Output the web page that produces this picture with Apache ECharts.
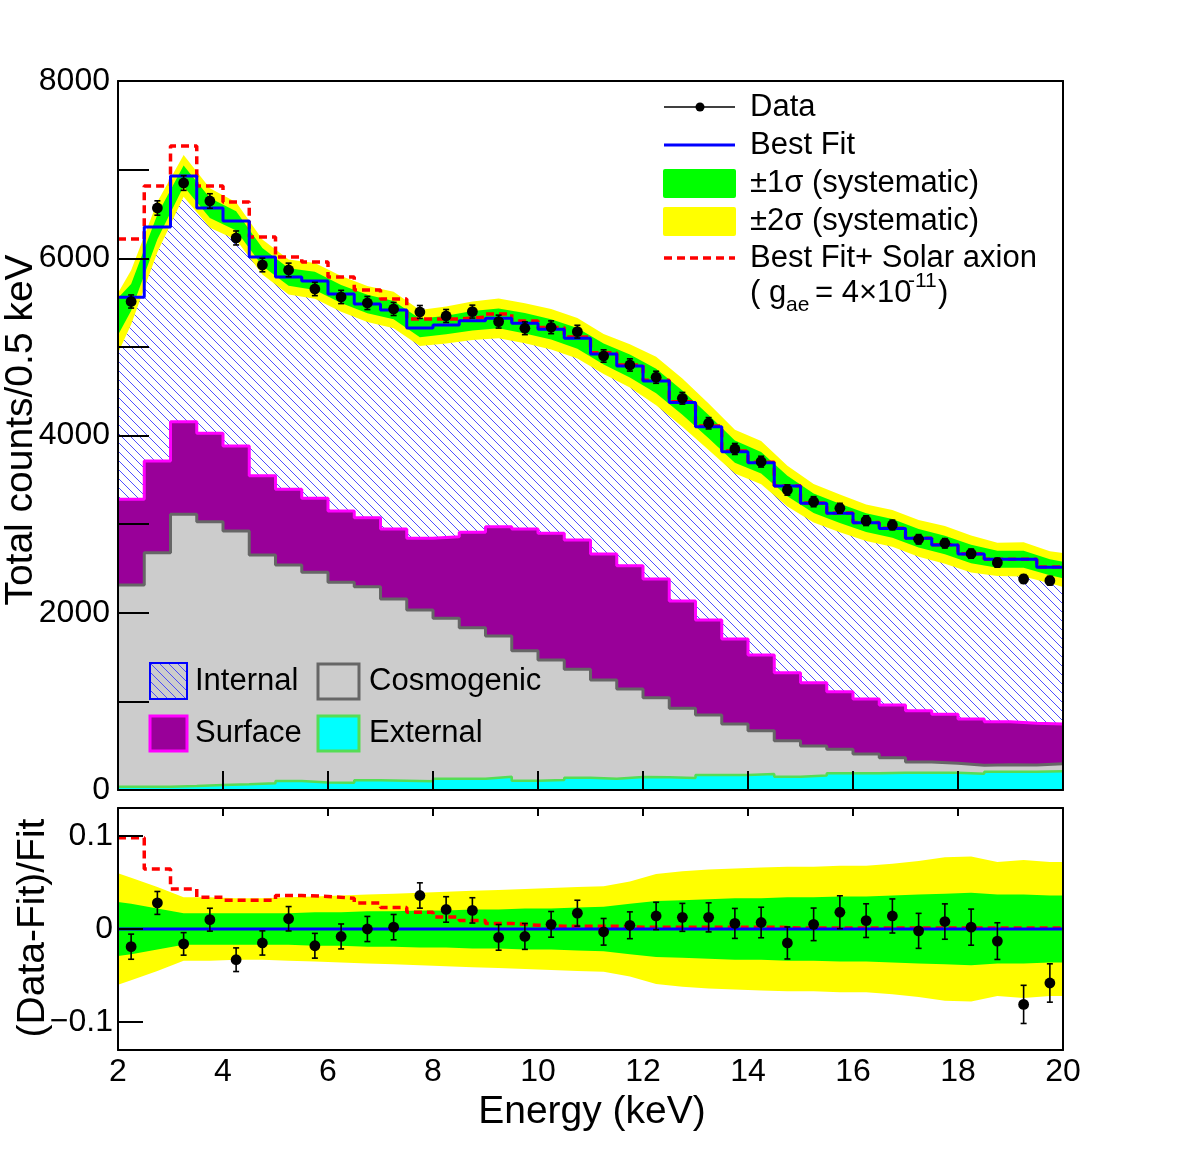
<!DOCTYPE html>
<html>
<head>
<meta charset="utf-8">
<title>Energy spectrum fit</title>
<script src="https://cdn.jsdelivr.net/npm/echarts@6/dist/echarts.min.js"></script>
<style>
html, body { margin: 0; padding: 0; background: #fff; }
#chart { width: 1182px; height: 1155px; }
</style>
</head>
<body>
<div id="chart"></div>
<script>
// bins of 0.5 keV from 2 to 20 keV
var xEdges = [2, 2.5, 3, 3.5, 4, 4.5, 5, 5.5, 6, 6.5, 7, 7.5, 8, 8.5, 9, 9.5, 10, 10.5, 11, 11.5,
	12, 12.5, 13, 13.5, 14, 14.5, 15, 15.5, 16, 16.5, 17, 17.5, 18, 18.5, 19, 19.5, 20];
var xCenters = [2.25, 2.75, 3.25, 3.75, 4.25, 4.75, 5.25, 5.75, 6.25, 6.75, 7.25, 7.75, 8.25, 8.75,
	9.25, 9.75, 10.25, 10.75, 11.25, 11.75, 12.25, 12.75, 13.25, 13.75, 14.25, 14.75, 15.25, 15.75,
	16.25, 16.75, 17.25, 17.75, 18.25, 18.75, 19.25, 19.75];

// top panel (counts / 0.5 keV)
var dataCounts = [5512, 6567, 6849, 6646, 6229, 5924, 5868, 5653, 5563, 5495, 5428, 5394, 5349, 5398,
	5285, 5210, 5221, 5172, 4897, 4796, 4657, 4420, 4138, 3848, 3705, 3385, 3253, 3179, 3039, 2990,
	2829, 2784, 2667, 2565, 2381, 2362];
var dataErr = [74, 81, 83, 82, 79, 77, 77, 75, 75, 74, 74, 73, 73, 73, 73, 72, 72, 72, 70, 69, 68, 66,
	64, 62, 61, 58, 57, 56, 55, 55, 53, 53, 52, 51, 49, 49];
var bestFit = [5559, 6353, 6929, 6567, 6421, 6014, 5789, 5744, 5597, 5484, 5416, 5213, 5247, 5295,
	5322, 5266, 5198, 5097, 4920, 4785, 4615, 4371, 4100, 3818, 3693, 3430, 3235, 3122, 3016, 2952,
	2840, 2765, 2663, 2603, 2603, 2513];
var fitPlusAxion = [6218, 6815, 7267, 6815, 6635, 6240, 6014, 5958, 5789, 5642, 5541, 5315, 5315, 5337,
	5370, 5292, 5219, 5112, 4935, 4795, 4624, 4380, 4107, 3824, 3698, 3434, 3238, 3125, 3018, 2954,
	2842, 2767, 2665, 2605, 2605, 2515];
// stacked tops: external < cosmogenic < surface < internal (= best fit)
var surfaceTop = [3280, 3712, 4156, 4025, 3882, 3547, 3393, 3292, 3148, 3073, 2945, 2840, 2858, 2908,
	2971, 2945, 2897, 2821, 2663, 2531, 2381, 2133, 1918, 1704, 1523, 1324, 1211, 1109, 1027, 959,
	895, 854, 801, 771, 752, 745];
var cosmoTop = [2313, 2678, 3111, 3028, 2923, 2652, 2539, 2456, 2344, 2294, 2155, 2031, 1937, 1831,
	1738, 1572, 1467, 1362, 1241, 1140, 1042, 922, 846, 745, 669, 556, 496, 459, 406, 365, 316, 301,
	279, 285, 282, 297];
var externalTop = [37, 37, 45, 56, 65, 75, 101, 86, 83, 109, 105, 100, 128, 128, 150, 105, 113, 139,
	128, 147, 143, 135, 169, 169, 181, 150, 165, 188, 188, 195, 195, 195, 184, 207, 207, 211];

// systematic bands, relative, at x = 2, bin centres, 20
var sig1 = [0.029, 0.027, 0.022, 0.017, 0.017, 0.017, 0.017, 0.017, 0.018, 0.018, 0.019, 0.019, 0.020,
	0.020, 0.021, 0.021, 0.022, 0.022, 0.023, 0.024, 0.027, 0.030, 0.031, 0.032, 0.033, 0.033, 0.034,
	0.034, 0.035, 0.035, 0.036, 0.037, 0.038, 0.039, 0.037, 0.037, 0.036, 0.036];
var sig2 = [0.060, 0.055, 0.045, 0.034, 0.034, 0.033, 0.033, 0.034, 0.035, 0.036, 0.037, 0.038, 0.039,
	0.040, 0.041, 0.042, 0.043, 0.044, 0.045, 0.046, 0.051, 0.059, 0.062, 0.064, 0.065, 0.066, 0.067,
	0.067, 0.068, 0.068, 0.070, 0.073, 0.077, 0.078, 0.072, 0.074, 0.072, 0.072];
// band ends in the top panel at x = 2 and x = 20
var yellowHiEnds = [5608, 2674];
var greenHiEnds = [5552, 2576];
var greenLoEnds = [5134, 2389];
var yellowLoEnds = [4931, 2291];

// bottom panel (Data-Fit)/Fit
var residData = [-0.019, 0.028, -0.016, 0.010, -0.033, -0.015, 0.011, -0.018, -0.008, 0.000, 0.002,
	0.036, 0.021, 0.020, -0.009, -0.008, 0.005, 0.017, -0.003, 0.004, 0.014, 0.0125, 0.0125, 0.006,
	0.007, -0.015, 0.005, 0.018, 0.009, 0.014, -0.002, 0.008, 0.002, -0.013, -0.081, -0.058];
var residErr = [0.0135, 0.0123, 0.0121, 0.0123, 0.0127, 0.013, 0.0131, 0.0133, 0.0134, 0.0135, 0.0136,
	0.0136, 0.0137, 0.0136, 0.0138, 0.0139, 0.0138, 0.0139, 0.0143, 0.0144, 0.0147, 0.015, 0.0156,
	0.0161, 0.0164, 0.0172, 0.0175, 0.0177, 0.0181, 0.0183, 0.0188, 0.019, 0.0194, 0.0197, 0.0205, 0.0206];
var residAxion = [0.098, 0.0645, 0.043, 0.034, 0.031, 0.031, 0.036, 0.035, 0.033, 0.028, 0.023, 0.018,
	0.013, 0.009, 0.006, 0.004, 0.003, 0.003, 0.003, 0.002, 0.002, 0.002, 0.002, 0.002, 0.002, 0.001,
	0.001, 0.001, 0.001, 0.001, 0.001, 0.001, 0.001, 0.001, 0.001, 0.001];

var FONT = '"Liberation Sans", Arial, Helvetica, sans-serif';
var HATCH_STEP = 9;
var HATCH_COLOR = '#3c3cff';
var TOP_Z = 100;

function font(size) {
	return size + 'px ' + FONT;
}

// hatch pattern for the internal component
function makeHatch() {
	var s = HATCH_STEP;
	var c = document.createElement('canvas');
	c.width = s;
	c.height = s;
	var ctx = c.getContext('2d');
	ctx.fillStyle = '#ffffff';
	ctx.fillRect(0, 0, s, s);
	ctx.strokeStyle = HATCH_COLOR;
	ctx.lineWidth = 0.9;
	ctx.beginPath();
	for (var k = -1; k <= 1; k++) {
		ctx.moveTo(k * s, 0);
		ctx.lineTo(k * s + s, s);
	}
	ctx.stroke();
	return c;
}

function stepData(vals) {
	return xEdges.map(function(x, i) {
		return [x, vals[Math.min(i, vals.length - 1)]];
	});
}

var bandX = [xEdges[0]].concat(xCenters).concat([xEdges[xEdges.length - 1]]);

function topBand(sig, hiEnds, loEnds) {
	var upper = [[xEdges[0], hiEnds[0]]];
	var lower = [[xEdges[0], loEnds[0]]];
	for (var i = 0; i < xCenters.length; i++) {
		upper.push([xCenters[i], bestFit[i] * (1 + sig[i + 1])]);
		lower.push([xCenters[i], bestFit[i] * (1 - sig[i + 1])]);
	}
	upper.push([xEdges[xEdges.length - 1], hiEnds[1]]);
	lower.push([xEdges[xEdges.length - 1], loEnds[1]]);
	return upper.concat(lower.reverse());
}

function residBand(sig) {
	var upper = bandX.map(function(x, i) { return [x, sig[i]]; });
	var lower = bandX.map(function(x, i) { return [x, -sig[i]]; });
	return upper.concat(lower.reverse());
}

function bandSeries(polys, xi, yi) {
	return {
		type: 'custom',
		xAxisIndex: xi,
		yAxisIndex: yi,
		z: 5,
		silent: true,
		data: [[xEdges[0], 0]],
		renderItem: function(params, api) {
			return {
				type: 'group',
				children: polys.map(function(p) {
					return {
						type: 'polygon',
						shape: {points: p.pts.map(function(d) { return api.coord(d); })},
						style: {fill: p.color}
					};
				})
			};
		}
	};
}

function pointSeries(ys, es, xi, yi) {
	return {
		type: 'custom',
		xAxisIndex: xi,
		yAxisIndex: yi,
		z: 8,
		silent: true,
		data: xCenters.map(function(x, i) { return [x, ys[i], es[i]]; }),
		renderItem: function(params, api) {
			var x = api.value(0), y = api.value(1), e = api.value(2);
			var p = api.coord([x, y]);
			var hi = api.coord([x, y + e]);
			var lo = api.coord([x, y - e]);
			var st = {stroke: '#000', lineWidth: 1.6};
			return {
				type: 'group',
				children: [
					{type: 'line', shape: {x1: p[0], y1: hi[1], x2: p[0], y2: lo[1]}, style: st},
					{type: 'line', shape: {x1: p[0] - 3, y1: hi[1], x2: p[0] + 3, y2: hi[1]}, style: st},
					{type: 'line', shape: {x1: p[0] - 3, y1: lo[1], x2: p[0] + 3, y2: lo[1]}, style: st},
					{type: 'circle', shape: {cx: p[0], cy: p[1], r: 5.4}, style: {fill: '#000'}}
				]
			};
		}
	};
}

function stepLine(vals, xi, yi, color, width, z, dashed) {
	return {
		type: 'line',
		xAxisIndex: xi,
		yAxisIndex: yi,
		step: 'end',
		showSymbol: false,
		silent: true,
		z: z,
		data: stepData(vals),
		lineStyle: {color: color, width: width, type: dashed ? [8, 5] : 'solid'}
	};
}

function stackArea(vals, fill, edge, width, z) {
	return {
		type: 'line',
		xAxisIndex: 0,
		yAxisIndex: 0,
		step: 'end',
		showSymbol: false,
		silent: true,
		z: z,
		data: stepData(vals),
		lineStyle: edge ? {color: edge, width: width} : {opacity: 0, width: 0},
		areaStyle: {color: fill, opacity: 1}
	};
}

// hatched legend box: hollow square with clipped diagonal lines
function hatchBox(x0, y0, w, h) {
	var out = [];
	for (var k = -h; k < w; k += HATCH_STEP) {
		var t0 = Math.max(0, -k), t1 = Math.min(h, w - k);
		if (t1 > t0) {
			out.push({type: 'line', z: TOP_Z, shape: {x1: x0 + k + t0, y1: y0 + t0, x2: x0 + k + t1, y2: y0 + t1},
				style: {stroke: HATCH_COLOR, lineWidth: 0.9}});
		}
	}
	out.push({type: 'rect', z: TOP_Z, shape: {x: x0, y: y0, width: w, height: h},
		style: {fill: null, stroke: '#0000ff', lineWidth: 2}});
	return out;
}

function frameAxis(extra) {
	var a = {
		z: 10,
		axisLine: {onZero: false, lineStyle: {color: '#000', width: 2}},
		axisTick: {show: false},
		axisLabel: {show: false},
		splitLine: {show: false}
	};
	for (var k in extra) a[k] = extra[k];
	return a;
}

function residLabel(v) {
	if (Math.abs(v) < 1e-9) return '0';
	return v < 0 ? '\u2212' + (-v) : String(v);
}

function legendText(t, x, y, size) {
	return {type: 'text', z: TOP_Z, style: {text: t, x: x, y: y, font: font(size), fill: '#000', verticalAlign: 'middle'}};
}

function legendBox(x, y, w, h, fill, stroke, lw) {
	return {type: 'rect', z: TOP_Z, shape: {x: x, y: y, width: w, height: h}, style: {fill: fill, stroke: stroke, lineWidth: lw}};
}

var legendTop = [
	{type: 'line', z: TOP_Z, shape: {x1: 664, y1: 107, x2: 735, y2: 107}, style: {stroke: '#000', lineWidth: 1.5}},
	{type: 'circle', z: TOP_Z, shape: {cx: 700, cy: 107, r: 4.5}, style: {fill: '#000'}},
	legendText('Data', 750, 107, 31),
	{type: 'line', z: TOP_Z, shape: {x1: 664, y1: 145, x2: 735, y2: 145}, style: {stroke: '#0000ff', lineWidth: 3}},
	legendText('Best Fit', 750, 145, 31),
	{type: 'rect', z: TOP_Z, shape: {x: 663, y: 169, width: 73, height: 29, r: 2}, style: {fill: '#00ff00'}},
	legendText('\u00b11\u03c3 (systematic)', 750, 183, 31),
	{type: 'rect', z: TOP_Z, shape: {x: 663, y: 207, width: 73, height: 29, r: 2}, style: {fill: '#ffff00'}},
	legendText('\u00b12\u03c3 (systematic)', 750, 221, 31),
	{type: 'line', z: TOP_Z, shape: {x1: 664, y1: 258, x2: 735, y2: 258}, style: {stroke: '#ff0000', lineWidth: 3.5, lineDash: [8, 5]}},
	legendText('Best Fit+ Solar axion', 750, 258, 31),
	legendText('( g', 750, 293, 31),
	legendText('ae', 786, 305, 21),
	legendText('= 4\u00d710', 815, 293, 31),
	legendText('-11', 908, 281, 21),
	legendText(')', 938, 293, 31)
];

var legendBottom = hatchBox(150, 663, 37, 36).concat([
	legendText('Internal', 195, 681, 31),
	legendBox(318, 664, 41, 35, '#cccccc', '#666666', 3),
	legendText('Cosmogenic', 369, 681, 31),
	legendBox(150, 716, 37, 35, '#990099', '#ff00ff', 3),
	legendText('Surface', 195, 733, 31),
	legendBox(318, 716, 41, 35, '#00ffff', '#55dd55', 3),
	legendText('External', 369, 733, 31)
]);

var titles = [
	{type: 'text', z: TOP_Z, x: 21, y: 430, rotation: Math.PI / 2,
		style: {text: 'Total counts/0.5 keV', x: 0, y: 0, font: font(39), fill: '#000', align: 'center', verticalAlign: 'middle'}},
	{type: 'text', z: TOP_Z, x: 33, y: 928, rotation: Math.PI / 2,
		style: {text: '(Data-Fit)/Fit', x: 0, y: 0, font: font(39), fill: '#000', align: 'center', verticalAlign: 'middle'}},
	{type: 'text', z: TOP_Z, x: 592, y: 1112,
		style: {text: 'Energy (keV)', x: 0, y: 0, font: font(39), fill: '#000', align: 'center', verticalAlign: 'middle'}}
];

var chart = echarts.init(document.getElementById('chart'));

var tickStyle = {color: '#000', width: 2};

var option = {
	animation: false,
	backgroundColor: '#ffffff',
	grid: [
		{left: 118, top: 81, width: 945, height: 709},
		{left: 118, top: 808, width: 945, height: 242}
	],
	xAxis: [
		frameAxis({gridIndex: 0, type: 'value', min: 2, max: 20, interval: 2,
			axisTick: {inside: true, length: 19, lineStyle: tickStyle}}),
		frameAxis({gridIndex: 0, type: 'value', position: 'top', min: 2, max: 20, interval: 2}),
		frameAxis({gridIndex: 1, type: 'value', min: 2, max: 20, interval: 2,
			axisLabel: {show: true, fontSize: 32, fontFamily: FONT, color: '#000', margin: 6,
				showMinLabel: true, showMaxLabel: true}}),
		frameAxis({gridIndex: 1, type: 'value', position: 'top', min: 2, max: 20, interval: 2,
			axisTick: {inside: true, length: 8, lineStyle: tickStyle}})
	],
	yAxis: [
		frameAxis({gridIndex: 0, type: 'value', min: 0, max: 8000, interval: 1000,
			axisTick: {inside: true, length: 31, lineStyle: tickStyle},
			axisLabel: {show: true, fontSize: 32, fontFamily: FONT, color: '#000', margin: 8,
				formatter: function(v) { return v % 2000 === 0 ? String(v) : ''; }}}),
		frameAxis({gridIndex: 0, type: 'value', position: 'right', min: 0, max: 8000}),
		frameAxis({gridIndex: 1, type: 'value', min: -0.13, max: 0.13,
			axisTick: {inside: true, length: 25, customValues: [-0.1, 0, 0.1], lineStyle: tickStyle},
			axisLabel: {show: true, fontSize: 32, fontFamily: FONT, color: '#000', margin: 5,
				customValues: [-0.1, 0, 0.1], formatter: residLabel}}),
		frameAxis({gridIndex: 1, type: 'value', position: 'right', min: -0.13, max: 0.13})
	],
	series: [
		stackArea(bestFit, {image: makeHatch(), repeat: 'repeat'}, null, 0, 1),
		stackArea(surfaceTop, '#990099', '#ff00ff', 3, 2),
		stackArea(cosmoTop, '#cccccc', '#666666', 3, 3),
		stackArea(externalTop, '#00ffff', '#55dd55', 2.5, 4),
		bandSeries([
			{pts: topBand(sig2, yellowHiEnds, yellowLoEnds), color: '#ffff00'},
			{pts: topBand(sig1, greenHiEnds, greenLoEnds), color: '#00ff00'}
		], 0, 0),
		stepLine(fitPlusAxion, 0, 0, '#ff0000', 3.5, 6, true),
		stepLine(bestFit, 0, 0, '#0000ff', 3, 7, false),
		pointSeries(dataCounts, dataErr, 0, 0),

		bandSeries([
			{pts: residBand(sig2), color: '#ffff00'},
			{pts: residBand(sig1), color: '#00ff00'}
		], 2, 2),
		stepLine(residAxion, 2, 2, '#ff0000', 3.5, 6, true),
		{
			type: 'line', xAxisIndex: 2, yAxisIndex: 2, showSymbol: false, silent: true, z: 7,
			data: [[xEdges[0], 0], [xEdges[xEdges.length - 1], 0]],
			lineStyle: {color: '#0000ff', width: 3}
		},
		pointSeries(residData, residErr, 2, 2)
	],
	graphic: {elements: legendTop.concat(legendBottom).concat(titles)}
};

chart.setOption(option);
</script>
</body>
</html>
